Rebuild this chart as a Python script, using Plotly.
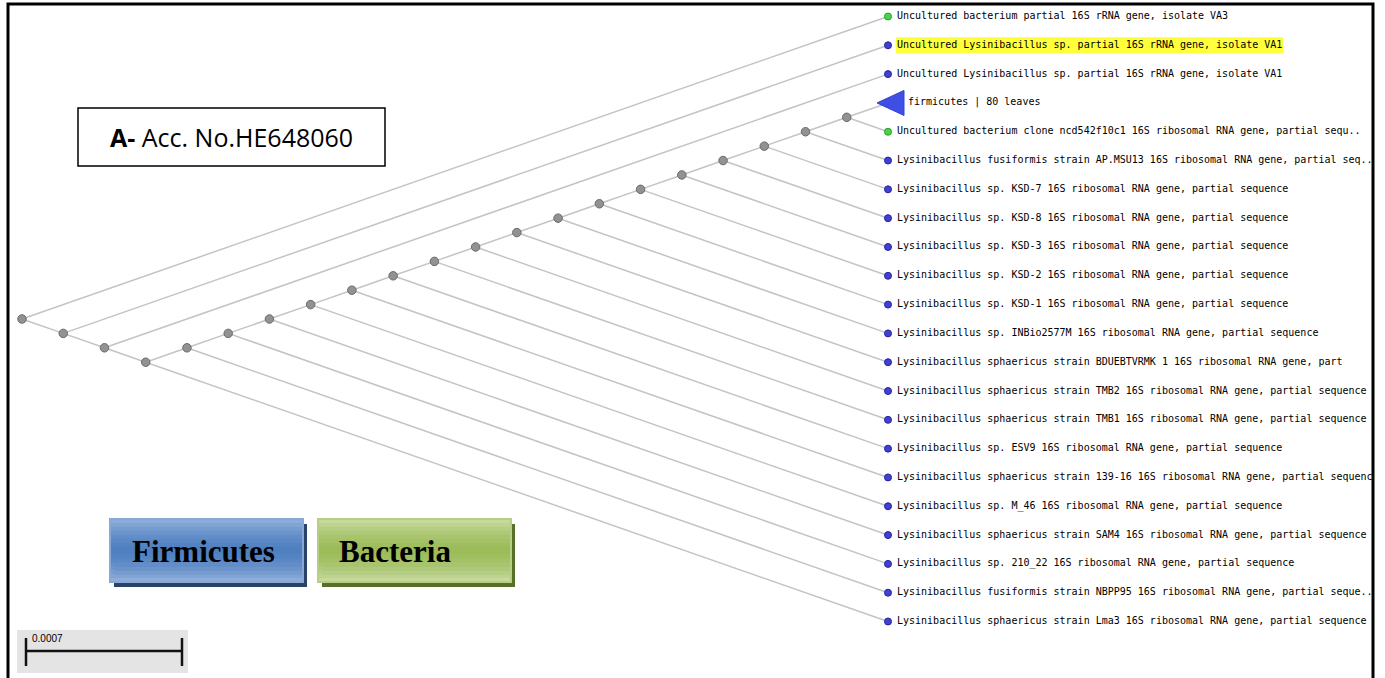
import plotly.graph_objects as go

# ---- tree data -------------------------------------------------------------
LABELS = [
    "Uncultured bacterium partial 16S rRNA gene, isolate VA3",
    "Uncultured Lysinibacillus sp. partial 16S rRNA gene, isolate VA1",
    "Uncultured Lysinibacillus sp. partial 16S rRNA gene, isolate VA1",
    "firmicutes | 80 leaves",
    "Uncultured bacterium clone ncd542f10c1 16S ribosomal RNA gene, partial sequ..",
    "Lysinibacillus fusiformis strain AP.MSU13 16S ribosomal RNA gene, partial seq..",
    "Lysinibacillus sp. KSD-7 16S ribosomal RNA gene, partial sequence",
    "Lysinibacillus sp. KSD-8 16S ribosomal RNA gene, partial sequence",
    "Lysinibacillus sp. KSD-3 16S ribosomal RNA gene, partial sequence",
    "Lysinibacillus sp. KSD-2 16S ribosomal RNA gene, partial sequence",
    "Lysinibacillus sp. KSD-1 16S ribosomal RNA gene, partial sequence",
    "Lysinibacillus sp. INBio2577M 16S ribosomal RNA gene, partial sequence",
    "Lysinibacillus sphaericus strain BDUEBTVRMK 1 16S ribosomal RNA gene, part",
    "Lysinibacillus sphaericus strain TMB2 16S ribosomal RNA gene, partial sequence",
    "Lysinibacillus sphaericus strain TMB1 16S ribosomal RNA gene, partial sequence",
    "Lysinibacillus sp. ESV9 16S ribosomal RNA gene, partial sequence",
    "Lysinibacillus sphaericus strain 139-16 16S ribosomal RNA gene, partial sequenc",
    "Lysinibacillus sp. M_46 16S ribosomal RNA gene, partial sequence",
    "Lysinibacillus sphaericus strain SAM4 16S ribosomal RNA gene, partial sequence",
    "Lysinibacillus sp. 210_22 16S ribosomal RNA gene, partial sequence",
    "Lysinibacillus fusiformis strain NBPP95 16S ribosomal RNA gene, partial seque..",
    "Lysinibacillus sphaericus strain Lma3 16S ribosomal RNA gene, partial sequence",
]
# leaf kind: "g" = uncultured bacterium (green), "b" = Lysinibacillus (blue), "c" = collapsed clade
LEAF_KIND = ["g", "b", "b", "c", "g", "b", "b", "b", "b", "b", "b",
             "b", "b", "b", "b", "b", "b", "b", "b", "b", "b", "b"]
HIGHLIGHTED = [1]
# topology, leaves given by index into LABELS
TREE = [0, [1, [2, [21, [20, [19, [18, [17, [16, [15, [14, [13, [12, [11, [10,
        [9, [8, [7, [6, [5, [3, 4]]]]]]]]]]]]]]]]]]]]]
SCALE_LABEL = "0.0007"

# ---- page geometry ---------------------------------------------------------
W, H = 1385, 678
MARGIN_R = 12
PLOT_W = W - MARGIN_R
LEAF_PX = 888          # column of the leaf tips
ROOT_PX = 22           # column of the root
TOP_PX, BOT_PX = 16.5, 621.5   # first / last leaf rows
N = len(LABELS)
UX = (LEAF_PX - ROOT_PX) / (N - 1)
UY = (BOT_PX - TOP_PX) / (N - 1)

x_range = [(0 - LEAF_PX) / UX, (PLOT_W - LEAF_PX) / UX]
y_range = [(H - TOP_PX) / UY, (0 - TOP_PX) / UY]

LABEL_FONT = dict(family="DejaVu Sans Mono", size=10, color="#000000")


def px(p):
    return p / PLOT_W


def py(p):
    return 1 - p / H


# ---- slanted cladogram layout ---------------------------------------------
nodes, edges = [], []


def layout(node):
    if isinstance(node, int):
        return 0.0, float(node), node, node
    placed = [layout(ch) for ch in node]
    lo = min(p[2] for p in placed)
    hi = max(p[3] for p in placed)
    x, y = -float(hi - lo), (lo + hi) / 2
    for cx, cy, _, _ in placed:
        edges.append(((x, y), (cx, cy)))
    nodes.append((x, y))
    return x, y, lo, hi


layout(TREE)

ex, ey = [], []
for (x0, y0), (x1, y1) in edges:
    ex += [x0, x1, None]
    ey += [y0, y1, None]

fig = go.Figure()

fig.add_trace(go.Scatter(x=ex, y=ey, mode="lines",
                         line=dict(color="#c4c4c4", width=1.5),
                         hoverinfo="skip", showlegend=False))

fig.add_trace(go.Scatter(x=[n[0] for n in nodes], y=[n[1] for n in nodes],
                         mode="markers",
                         marker=dict(size=8.5, color="#929292",
                                     line=dict(color="#6a6a6a", width=1)),
                         hoverinfo="skip", showlegend=False))

kind_style = {"g": ("#46d646", "#2a9a2a"), "b": ("#4040d8", "#25259a")}
for kind, (fill, edge) in kind_style.items():
    idx = [i for i, k in enumerate(LEAF_KIND) if k == kind]
    fig.add_trace(go.Scatter(x=[0] * len(idx), y=idx, mode="markers",
                             marker=dict(size=7, color=fill,
                                         line=dict(color=edge, width=1)),
                             hoverinfo="skip", showlegend=False))

# collapsed clade drawn as a left-pointing triangle
for i, k in enumerate(LEAF_KIND):
    if k == "c":
        tx = [-11 / UX, 16 / UX, 16 / UX, -11 / UX]
        ty = [i, i - 12.5 / UY, i + 12.5 / UY, i]
        fig.add_trace(go.Scatter(x=tx, y=ty, mode="lines", fill="toself",
                                 fillcolor="#3f4fe6",
                                 line=dict(color="#3040d0", width=1),
                                 hoverinfo="skip", showlegend=False))

# leaf labels
plain = [i for i, k in enumerate(LEAF_KIND) if k != "c"]
fig.add_trace(go.Scatter(x=[9 / UX] * len(plain), y=plain, mode="text",
                         text=[LABELS[i] for i in plain],
                         textposition="middle right", textfont=LABEL_FONT,
                         cliponaxis=True, hoverinfo="skip", showlegend=False))
coll = [i for i, k in enumerate(LEAF_KIND) if k == "c"]
fig.add_trace(go.Scatter(x=[20 / UX] * len(coll), y=coll, mode="text",
                         text=[LABELS[i] for i in coll],
                         textposition="middle right", textfont=LABEL_FONT,
                         cliponaxis=True, hoverinfo="skip", showlegend=False))

shapes = []
annotations = []

# yellow highlight behind selected labels
for i in HIGHLIGHTED:
    rowp = TOP_PX + i * UY
    shapes.append(dict(type="rect", xref="paper", yref="paper", layer="below",
                       x0=px(896), x1=px(1283), y0=py(rowp - 8), y1=py(rowp + 8),
                       fillcolor="#ffff3c", line=dict(width=0)))

# accession box
shapes.append(dict(type="rect", xref="paper", yref="paper",
                   x0=px(78), x1=px(385), y0=py(108), y1=py(166),
                   fillcolor="white", line=dict(color="#000000", width=1.5)))
annotations.append(dict(xref="paper", yref="paper", x=px(231), y=py(137),
                        text="<b>A-</b> Acc. No.HE648060", showarrow=False,
                        font=dict(family="Open Sans", size=25, color="#000000"),
                        xanchor="center", yanchor="middle"))


# taxon buttons with a drop shadow and vertical shading
def button(x0, x1, y0, y1, top, mid, border, shadow, label, cx):
    shapes.append(dict(type="rect", xref="paper", yref="paper",
                       x0=px(x0 + 4), x1=px(x1 + 4), y0=py(y0 + 5), y1=py(y1 + 5),
                       fillcolor=shadow, line=dict(width=0)))
    steps = 16
    h = (y1 - y0) / steps

    def mix(a, b, t):
        ca = [int(a[k:k + 2], 16) for k in (1, 3, 5)]
        cb = [int(b[k:k + 2], 16) for k in (1, 3, 5)]
        return "#" + "".join(f"{round(u + (v - u) * t):02x}" for u, v in zip(ca, cb))

    for s in range(steps):
        t = abs((s + 0.5) / steps - 0.5) * 2
        shapes.append(dict(type="rect", xref="paper", yref="paper",
                           x0=px(x0), x1=px(x1), y0=py(y0 + s * h), y1=py(y0 + (s + 1) * h + 0.6),
                           fillcolor=mix(mid, top, t ** 1.5), line=dict(width=0)))
    shapes.append(dict(type="rect", xref="paper", yref="paper",
                       x0=px(x0), x1=px(x1), y0=py(y0), y1=py(y1),
                       fillcolor="rgba(0,0,0,0)", line=dict(color=border, width=2)))
    annotations.append(dict(xref="paper", yref="paper", x=px(cx), y=py((y0 + y1) / 2 + 1),
                            text=f"<b>{label}</b>", showarrow=False,
                            font=dict(family="Liberation Serif", size=31, color="#000000"),
                            xanchor="center", yanchor="middle"))


button(110, 303, 519, 582, "#93b1dc", "#4e7fc0", "#88a8d6", "#2a4468", "Firmicutes", 203)
button(318, 511, 519, 582, "#c9dca2", "#9bbb59", "#b5cd85", "#56702a", "Bacteria", 395)

# scale bar
shapes.append(dict(type="rect", xref="paper", yref="paper",
                   x0=px(17), x1=px(188), y0=py(630), y1=py(673),
                   fillcolor="#e4e4e4", line=dict(width=0)))
for (a, b, c, d) in [(26, 651, 182, 651), (26, 638, 26, 666), (182, 638, 182, 666)]:
    shapes.append(dict(type="line", xref="paper", yref="paper",
                       x0=px(a), y0=py(b), x1=px(c), y1=py(d),
                       line=dict(color="#111111", width=2.5)))
annotations.append(dict(xref="paper", yref="paper", x=px(30), y=py(638),
                        text=SCALE_LABEL, showarrow=False,
                        font=dict(family="Liberation Sans", size=10, color="#000000"),
                        xanchor="left", yanchor="middle"))

# page frame
shapes.append(dict(type="path", xref="paper", yref="paper",
                   path=f"M {px(8)},{py(H + 5)} L {px(8)},{py(4)} L {px(1373)},{py(4)} L {px(1373)},{py(H + 5)}",
                   line=dict(color="#000000", width=3)))

fig.update_layout(
    width=W, height=H,
    margin=dict(l=0, r=MARGIN_R, t=0, b=0),
    paper_bgcolor="white", plot_bgcolor="rgba(0,0,0,0)",
    xaxis=dict(range=x_range, visible=False, fixedrange=True),
    yaxis=dict(range=y_range, visible=False, fixedrange=True),
    shapes=shapes, annotations=annotations,
    showlegend=False,
)

fig.write_html("out.html", config={"displayModeBar": False})
